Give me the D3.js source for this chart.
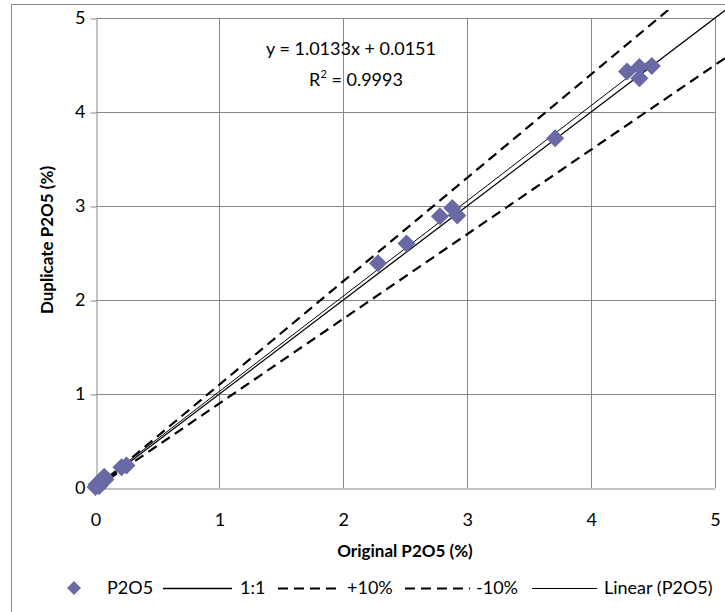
<!DOCTYPE html>
<html>
<head>
<meta charset="utf-8">
<script src="https://cdn.jsdelivr.net/npm/d3@7"></script>
<style>
  body { margin: 0; background: #fff; }
  text { font-family: Lato, "Open Sans", sans-serif; fill: #000; }
</style>
</head>
<body>
<svg id="chart" width="725" height="612"></svg>
<script>
// Duplicate assay pairs, P2O5 (%)
const originalP2O5  = [0.00, 0.01, 0.03, 0.05, 0.07, 0.08, 0.21, 0.25, 2.28, 2.51, 2.78, 2.88, 2.92, 3.71, 4.29, 4.39, 4.39, 4.49];
const duplicateP2O5 = [0.01, 0.04, 0.02, 0.08, 0.12, 0.09, 0.22, 0.24, 2.39, 2.60, 2.89, 2.98, 2.90, 3.72, 4.43, 4.48, 4.36, 4.49];

const axisTicks = [0, 1, 2, 3, 4, 5];
const referenceX = [0, 5.2];              // reference lines run past the axis end
const referenceFactors = [1.0, 1.1, 0.9]; // 1:1, +10%, -10%
const trendSlope = 1.0133;
const trendIntercept = 0.0151;
const rSquared = 0.9993;
const legendLabels = ["P2O5", "1:1", "+10%", "-10%", "Linear (P2O5)"];

const svg = d3.select("#chart");
const x = d3.scaleLinear().domain([0, 5]).range([95.5, 715]);
const y = d3.scaleLinear().domain([0, 5]).range([488, 18]);
const px = v => Math.round(v) + 0.5;

const gridColor = "#878787";
const markColor = "#6969A6";

// chart area frame
svg.append("rect")
  .attr("x", 11.5).attr("y", 4.5)
  .attr("width", 800).attr("height", 700)
  .attr("fill", "none").attr("stroke", gridColor).attr("stroke-width", 1);

// gridlines
const grid = svg.append("g");
grid.selectAll(".gx").data(axisTicks.slice(1)).join("line")
  .attr("x1", d => px(x(d))).attr("x2", d => px(x(d)))
  .attr("y1", y(0)).attr("y2", px(y(5)))
  .attr("stroke", gridColor).attr("stroke-width", 1);
grid.selectAll(".gy").data(axisTicks.slice(1)).join("line")
  .attr("y1", d => px(y(d))).attr("y2", d => px(y(d)))
  .attr("x1", px(x(0))).attr("x2", px(x(5)))
  .attr("stroke", gridColor).attr("stroke-width", 1);

// axes
const yAxis = svg.append("g")
  .attr("transform", `translate(${px(x(0))},0)`)
  .call(d3.axisLeft(y).tickValues(axisTicks).tickFormat(d3.format("d"))
        .tickSize(6).tickSizeOuter(0).tickPadding(5));
const xAxis = svg.append("g")
  .attr("transform", `translate(0,${px(y(0))})`)
  .call(d3.axisBottom(x).tickValues(axisTicks).tickFormat(d3.format("d"))
        .tickSize(0).tickSizeOuter(0).tickPadding(25));
[xAxis, yAxis].forEach(a => {
  a.select(".domain").attr("stroke", gridColor);
  a.selectAll(".tick line").attr("stroke", gridColor);
  a.selectAll(".tick text").style("font-size", "18px").attr("fill", "#000")
    .style("font-family", "Lato, sans-serif");
});
yAxis.selectAll(".tick line").attr("transform", "translate(0,0.5)");

// axis titles
svg.append("text")
  .attr("x", 405).attr("y", 557)
  .attr("text-anchor", "middle")
  .style("font-size", "17px").style("font-weight", "bold")
  .text("Original P2O5 (%)");
svg.append("text")
  .attr("transform", "translate(53,240) rotate(-90)")
  .attr("text-anchor", "middle")
  .style("font-size", "17px").style("font-weight", "bold")
  .text("Duplicate P2O5 (%)");

// reference and trend lines
svg.append("clipPath").attr("id", "plotClip")
  .append("rect").attr("x", x(0) - 2).attr("y", 10)
  .attr("width", 725).attr("height", y(0) - 10 + 6);

const line = d3.line().x(d => x(d[0])).y(d => y(d[1]));
const lines = svg.append("g").attr("clip-path", "url(#plotClip)");

const refStyles = [
  { width: 1.3, dash: null },
  { width: 2.2, dash: "10,6" },
  { width: 2.2, dash: "10,6" }
];
referenceFactors.forEach((f, i) => {
  lines.append("path")
    .attr("d", line(referenceX.map(v => [v, v * f])))
    .attr("fill", "none").attr("stroke", "#000")
    .attr("stroke-width", refStyles[i].width)
    .attr("stroke-dasharray", refStyles[i].dash);
});

const xExtent = d3.extent(originalP2O5);
lines.append("path")
  .attr("d", line(xExtent.map(v => [v, trendSlope * v + trendIntercept])))
  .attr("fill", "none").attr("stroke", "#000").attr("stroke-width", 1);

// data markers
const diamond = h => `M0,${-h}L${h},0L0,${h}L${-h},0Z`;
svg.append("g").selectAll("path")
  .data(originalP2O5.map((v, i) => [v, duplicateP2O5[i]]))
  .join("path")
  .attr("d", diamond(9))
  .attr("transform", d => `translate(${x(d[0])},${y(d[1])})`)
  .attr("fill", markColor);

// trendline equation
svg.append("text")
  .attr("x", 351).attr("y", 55).attr("text-anchor", "middle")
  .style("font-size", "18px")
  .text(`y = ${trendSlope}x + ${trendIntercept}`);
const r2 = svg.append("text")
  .attr("x", 356).attr("y", 86).attr("text-anchor", "middle")
  .style("font-size", "18px");
r2.append("tspan").text("R");
r2.append("tspan").attr("dy", -8).style("font-size", "11px").text("2");
r2.append("tspan").attr("dy", 8).text(` = ${rSquared}`);

// legend
const legendY = 588;
const legend = svg.append("g");
legend.append("path").attr("d", diamond(7))
  .attr("transform", `translate(74,${legendY})`).attr("fill", markColor);
const legendKeys = [
  { x1: 163, x2: 232, w: 1.3, dash: null },
  { x1: 278, x2: 342, w: 2.2, dash: "10,6" },
  { x1: 405, x2: 470, w: 2.2, dash: "10,6" },
  { x1: 532, x2: 597, w: 1, dash: null }
];
legendKeys.forEach(k => {
  legend.append("line")
    .attr("x1", k.x1).attr("x2", k.x2)
    .attr("y1", legendY + 0.5).attr("y2", legendY + 0.5)
    .attr("stroke", "#000").attr("stroke-width", k.w)
    .attr("stroke-dasharray", k.dash);
});
const legendTextX = [107, 240, 347, 476, 604];
legend.selectAll("text").data(legendLabels).join("text")
  .attr("x", (d, i) => legendTextX[i]).attr("y", legendY)
  .attr("dy", "0.36em")
  .style("font-size", "18px")
  .text(d => d);
</script>
</body>
</html>
